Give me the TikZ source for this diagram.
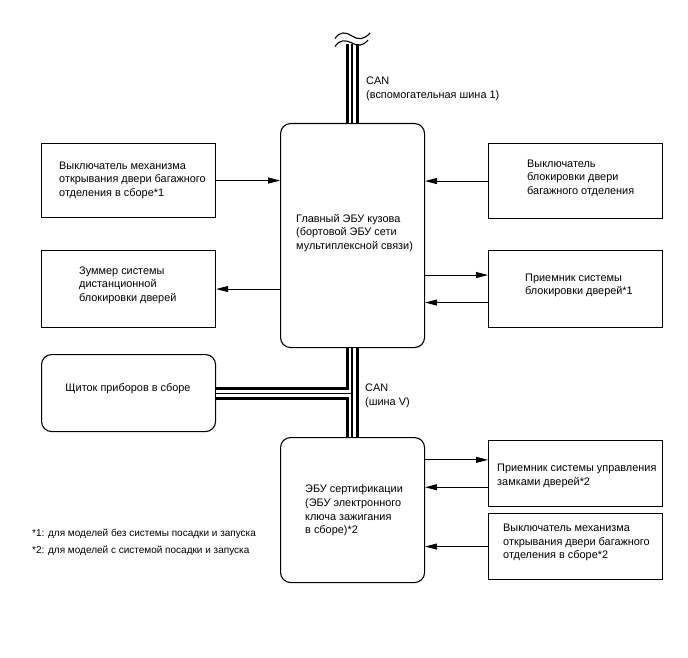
\documentclass[tikz,border=0pt]{standalone}
\usepackage{fontspec}
\setmainfont{Liberation Sans}
\usetikzlibrary{arrows.meta,calc}
\begin{document}
\begin{tikzpicture}[x=1pt,y=-1pt,
  box/.style={draw,line width=1.1pt,minimum width=174pt,minimum height=#1,anchor=north west,inner sep=0pt},
  ecu/.style={draw,line width=1.1pt,rounded corners=10pt,minimum width=144pt,minimum height=#1,anchor=north west,inner sep=0pt},
  txt/.style={anchor=west,align=left,inner sep=0pt,font=\fontsize{10.9}{13.6}\selectfont},
  fn/.style={anchor=west,align=left,inner sep=0pt,font=\fontsize{10}{13}\selectfont},
  arr/.style={line width=0.9pt,-{Triangle[length=12pt,width=6pt]}},
  busouter/.style={line width=13pt},
  businner/.style={white,line width=7pt},
  buscore/.style={line width=1.1pt}]
\useasboundingbox (0,0) rectangle (688,658);

% boxes
\node[box=74pt] (b1) at (41,143) {};
\node[box=77pt] (b2) at (41,250) {};
\node[box=77pt,rounded corners=10pt] (b3) at (41,354) {};
\node[ecu=224pt] (m) at (280,123) {};
\node[ecu=145pt] (c) at (280,437) {};
\node[box=75pt] (r1) at (488,143) {};
\node[box=77pt] (r2) at (488,250) {};
\node[box=66pt] (r3) at (488,440) {};
\node[box=66pt] (r4) at (488,513) {};

% texts
\node[txt] (b1t) at (59,180) {Выключатель механизма\\открывания двери багажного\\отделения в сборе*1};
\node[txt] (b2t) at (79,285) {Зуммер системы\\дистанционной\\блокировки дверей};
\node[txt,anchor=center] (b3t) at (128,389) {Щиток приборов в сборе};
\node[txt] (mt) at (296,233) {Главный ЭБУ кузова\\(бортовой ЭБУ сети\\мультиплексной связи)};
\node[txt] (ct) at (305,510.5) {ЭБУ сертификации\\(ЭБУ электронного\\ключа зажигания\\в сборе)*2};
\node[txt] (r1t) at (527,178) {Выключатель\\блокировки двери\\багажного отделения};
\node[txt] (r2t) at (525,285.5) {Приемник системы\\блокировки дверей*1};
\node[txt] (r3t) at (497,476) {Приемник системы управления\\замками дверей*2};
\node[txt] (r4t) at (503,542.7) {Выключатель механизма\\открывания двери багажного\\отделения в сборе*2};
\node[txt] (can1) at (366,89) {CAN\\(вспомогательная шина 1)};
\node[txt] (can2) at (365,396) {CAN\\(шина V)};
\node[fn] (fn1) at (32,534) {*1: для моделей без системы посадки и запуска};
\node[fn] (fn2) at (32,551) {*2: для моделей с системой посадки и запуска};

% arrows
\draw[arr] (b1.east) -- (b1.east -| m.west);
\draw[arr] (b2.east -| m.west) -- (b2.east);
\draw[arr] (r1.west) -- (r1.west -| m.east);
\draw[arr] ([yshift=14pt]r2.west -| m.east) -- ([yshift=14pt]r2.west);
\draw[arr] ([yshift=-13.5pt]r2.west) -- ([yshift=-13.5pt]r2.west -| m.east);
\draw[arr] ([yshift=13.7pt]r3.west -| c.east) -- ([yshift=13.7pt]r3.west);
\draw[arr] ([yshift=-13.7pt]r3.west) -- ([yshift=-13.7pt]r3.west -| c.east);
\draw[arr] (r4.west) -- (r4.west -| c.east);

% CAN bus (auxiliary bus 1)
\coordinate (top) at (352,44);
\draw[busouter] (top) -- (top |- m.north);
\draw[businner] (top) -- (top |- m.north);
\draw[buscore] (top) -- (top |- m.north);
\draw[line width=1.1pt] (335,38.5) .. controls (340,31) and (346,32) .. (352,36) .. controls (358,40) and (364,40) .. (370,33);
\draw[line width=1.1pt] (335,46.5) .. controls (340,39) and (346,40) .. (352,43) .. controls (358,46.5) and (363,46) .. (368,40);

% CAN bus V with T junction
\coordinate (mb) at (352,0);
\coordinate (jn) at (352,0 |- b3.east);
\draw[busouter] (mb |- m.south) -- (mb |- c.north);
\draw[busouter] (b3.east) -- (jn);
\draw[businner] (mb |- m.south) -- (mb |- c.north);
\draw[businner] (b3.east) -- (jn);
\draw[buscore] (mb |- m.south) -- (mb |- c.north);
\draw[buscore] (b3.east) -- (jn);
\end{tikzpicture}
\end{document}
